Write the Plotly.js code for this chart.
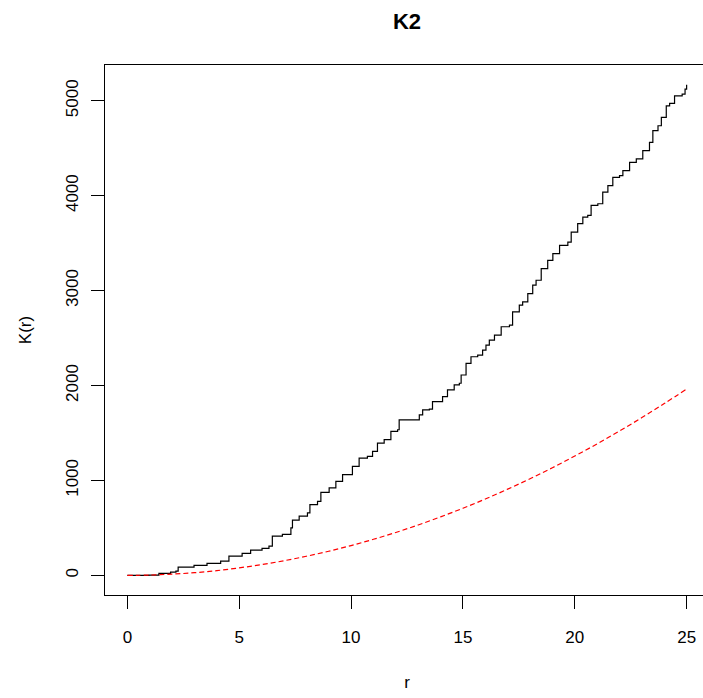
<!DOCTYPE html>
<html>
<head>
<meta charset="utf-8">
<script src="https://cdn.plot.ly/plotly-3.0.1.min.js"></script>
<style>
html,body{margin:0;padding:0;overflow:hidden;background:#fff;}
#chart{width:709px;height:698px;}
</style>
</head>
<body>
<div id="chart"></div>
<script>
var obsR = [0, 0.96, 1.41, 1.93, 2.17, 2.27, 2.98, 3.56, 4.17, 4.54, 5.13, 5.51, 6.02, 6.33, 6.48, 6.93, 7.31, 7.38, 7.68, 8.05, 8.16, 8.50, 8.65, 9.02, 9.32, 9.62, 9.84, 10.06, 10.36, 10.73, 10.96, 11.18, 11.48, 11.78, 12.08, 12.15, 12.82, 13.05, 13.20, 13.50, 13.64, 14.09, 14.31, 14.61, 14.84, 14.92, 15.14, 15.36, 15.66, 15.88, 16.03, 16.18, 16.41, 16.71, 17.08, 17.22, 17.52, 17.67, 17.90, 18.12, 18.27, 18.50, 18.79, 19.02, 19.32, 19.69, 19.84, 20.13, 20.36, 20.58, 20.73, 21.03, 21.25, 21.48, 21.70, 22.00, 22.15, 22.45, 22.75, 23.04, 23.34, 23.49, 23.72, 23.87, 24.09, 24.24, 24.46, 24.80, 24.93, 25.00];
var obsK = [0, 3, 21, 35, 45, 87, 105, 126, 150, 203, 231, 266, 284, 308, 413, 431, 501, 581, 623, 659, 746, 780, 875, 921, 991, 1061, 1061, 1148, 1236, 1253, 1306, 1394, 1429, 1516, 1534, 1639, 1639, 1691, 1744, 1751, 1831, 1883, 1954, 2006, 2024, 2111, 2234, 2303, 2321, 2374, 2426, 2479, 2531, 2619, 2637, 2776, 2847, 2881, 2969, 3057, 3109, 3232, 3319, 3390, 3477, 3511, 3617, 3705, 3774, 3792, 3897, 3915, 4037, 4107, 4194, 4212, 4265, 4352, 4388, 4475, 4562, 4685, 4737, 4825, 4947, 4972, 5052, 5070, 5123, 5168];

// Theoretical K(r) (red dashed curve)
var theoR = [0, 1, 2, 3, 4, 5, 6, 7, 8, 9, 10, 11, 12, 13, 14, 15, 16, 17, 18, 19, 20, 21, 22, 23, 24, 25];
var theoK = [0, 3, 13, 28, 50, 79, 113, 154, 201, 254, 314, 380, 452, 531, 616, 707, 804, 908, 1018, 1134, 1257, 1385, 1521, 1662, 1810, 1963];

var xTicks = [0, 5, 10, 15, 20, 25];
var yTicks = [0, 1000, 2000, 3000, 4000, 5000];

var FONT = 'Liberation Sans, Arial, Helvetica, sans-serif';

var traces = [
  {x: obsR, y: obsK, type: 'scatter', mode: 'lines',
   line: {color: '#000000', width: 1.2, shape: 'hv'}, hoverinfo: 'skip'},
  {x: theoR, y: theoK, type: 'scatter', mode: 'lines',
   line: {color: '#ff0000', width: 1.2, dash: '5px,3px', shape: 'spline'}, hoverinfo: 'skip'}
];

var layout = {
  width: 709, height: 698,
  margin: {l: 105, r: 0, t: 65, b: 103, pad: 0},
  paper_bgcolor: '#ffffff', plot_bgcolor: '#ffffff',
  showlegend: false,
  font: {family: FONT, size: 17, color: '#000000'},
  title: {text: 'K2', font: {family: FONT, size: 22, weight: 'bold', color: '#000'},
          x: 0.5, xref: 'paper', xanchor: 'center', y: 1 - 21/698, yref: 'container', yanchor: 'middle'},
  xaxis: {
    range: [-1, 26], tickvals: xTicks, ticktext: xTicks.map(String),
    ticks: 'outside', ticklen: 13, tickwidth: 1, tickcolor: '#000',
    showline: true, mirror: true, linecolor: '#000', linewidth: 1,
    showgrid: false, zeroline: false, automargin: false,
    ticklabelstandoff: 14,
    tickfont: {family: FONT, size: 17},
    title: {text: 'r', font: {family: FONT, size: 17}, standoff: 29}
  },
  yaxis: {
    range: [-207, 5377], tickvals: yTicks, ticktext: yTicks.map(String),
    ticks: 'outside', ticklen: 13, tickwidth: 1, tickcolor: '#000',
    showline: true, mirror: true, linecolor: '#000', linewidth: 1,
    showgrid: false, zeroline: false, automargin: false, tickangle: -90,
    ticklabelstandoff: 6,
    tickfont: {family: FONT, size: 17},
    title: {text: 'K(r)', font: {family: FONT, size: 17}, standoff: 27}
  }
};

Plotly.newPlot('chart', traces, layout, {staticPlot: true, displayModeBar: false});
</script>
</body>
</html>
